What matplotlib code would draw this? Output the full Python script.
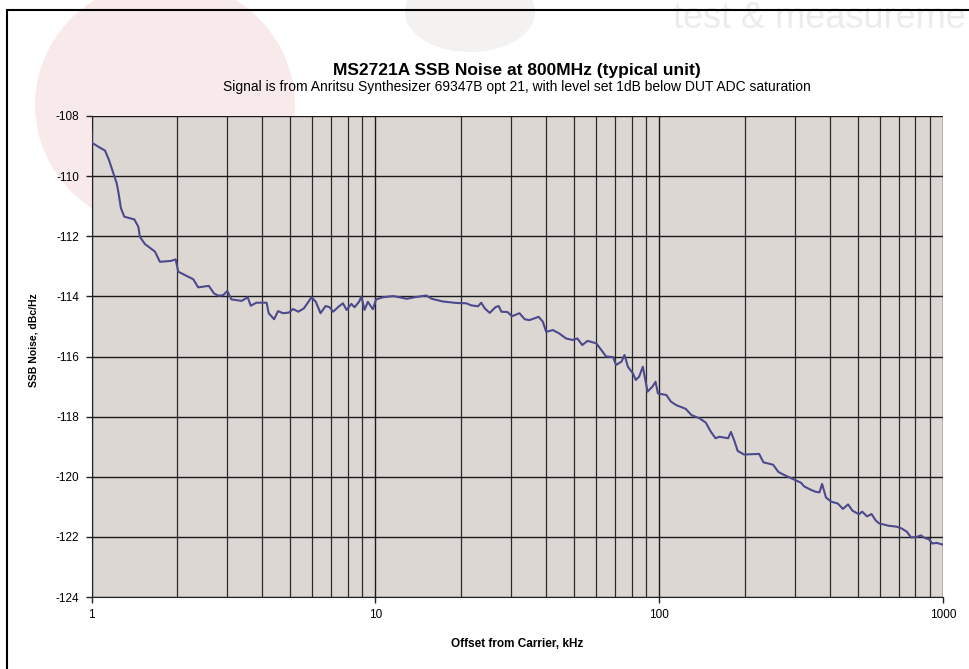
import numpy as np
import matplotlib
matplotlib.use("Agg")
import matplotlib.pyplot as plt
from matplotlib.patches import Ellipse, Rectangle
from matplotlib.ticker import FixedLocator, NullFormatter

# =========================================================
# DATA
# =========================================================

offset_khz = [
    1.0, 1.0, 1.056, 1.116, 1.152, 1.193, 1.227, 1.243, 1.27, 1.305,
    1.415, 1.462, 1.481, 1.543, 1.673, 1.742, 1.905, 1.979, 2.022, 2.134,
    2.283, 2.376, 2.59, 2.70, 2.80, 2.91, 3.01, 3.11, 3.38, 3.55,
    3.64, 3.81, 4.14, 4.21, 4.40, 4.54, 4.73, 4.96, 5.13, 5.35,
    5.6, 5.96, 6.17, 6.41, 6.68, 6.90, 7.10, 7.47, 7.69, 7.92,
    8.23, 8.45, 8.76, 8.93, 9.16, 9.41, 9.80, 10.06, 10.65, 11.55,
    12.17, 12.9, 13.75, 15.1, 15.8, 17.3, 19.3, 20.9, 21.8, 23.0,
    23.6, 24.3, 25.3, 26.5, 27.2, 27.8, 29.2, 30.3, 32.2, 33.6,
    34.9, 37.6, 38.9, 40.0, 42.2, 44.4, 47.0, 49.5, 51.5, 53.6,
    55.9, 60.0, 62.5, 65.0, 68.8, 70.5, 73.7, 75.5, 77.6, 80.8,
    82.7, 85.0, 87.6, 89.8, 91.0, 94.7, 97.1, 99.0, 106, 110,
    115, 124, 130, 139, 146, 152, 158, 163, 175, 179,
    184, 189, 199, 225, 233, 252, 263, 277, 298, 316,
    324, 345, 356, 367, 375, 387, 404, 426, 444, 463,
    480, 506, 519, 540, 560, 579, 595, 643, 686, 715,
    746, 772, 810, 835, 868, 890, 917, 950, 1000,
]

ssb_noise = [
    -108.55, -108.88, -109.02, -109.15, -109.46, -109.89, -110.24, -110.52, -111.07, -111.35,
    -111.44, -111.68, -112.02, -112.26, -112.51, -112.85, -112.82, -112.77, -113.18, -113.29,
    -113.43, -113.70, -113.65, -113.90, -113.98, -113.96, -113.82, -114.10, -114.15, -114.03,
    -114.31, -114.21, -114.21, -114.56, -114.76, -114.49, -114.56, -114.54, -114.42, -114.51,
    -114.40, -114.03, -114.18, -114.56, -114.32, -114.36, -114.51, -114.32, -114.23, -114.45,
    -114.25, -114.36, -114.18, -114.01, -114.45, -114.18, -114.43, -114.10, -114.03, -113.99,
    -114.03, -114.08, -114.03, -113.97, -114.08, -114.17, -114.22, -114.23, -114.30, -114.33,
    -114.21, -114.40, -114.55, -114.36, -114.32, -114.51, -114.52, -114.66, -114.56, -114.76,
    -114.79, -114.68, -114.84, -115.18, -115.12, -115.23, -115.40, -115.45, -115.40, -115.62,
    -115.48, -115.56, -115.78, -116.00, -116.02, -116.28, -116.17, -115.95, -116.34, -116.56,
    -116.78, -116.67, -116.34, -116.89, -117.17, -117.00, -116.84, -117.23, -117.28, -117.50,
    -117.62, -117.74, -117.95, -118.06, -118.20, -118.50, -118.72, -118.67, -118.72, -118.51,
    -118.80, -119.14, -119.26, -119.24, -119.52, -119.60, -119.84, -119.95, -120.09, -120.20,
    -120.32, -120.45, -120.50, -120.52, -120.24, -120.69, -120.83, -120.89, -121.07, -120.92,
    -121.13, -121.25, -121.16, -121.32, -121.24, -121.45, -121.55, -121.63, -121.66, -121.72,
    -121.83, -122.02, -122.00, -121.95, -122.05, -122.07, -122.22, -122.20, -122.26,
]

y_ticks = [-124, -122, -120, -118, -116, -114, -112, -110, -108]
x_ticks = [1, 10, 100, 1000]
x_tick_labels = ["1", "10", "100", "1000"]

title = "MS2721A SSB Noise at 800MHz (typical unit)"
subtitle = ("Signal is from Anritsu Synthesizer 69347B opt 21, "
            "with level set 1dB below DUT ADC saturation")

# =========================================================
# FIGURE
# =========================================================

plt.rcParams['font.family'] = ['Liberation Sans', 'DejaVu Sans']
plt.rcParams['axes.unicode_minus'] = False

W, H = 969, 669
fig = plt.figure(figsize=(W / 100, H / 100), dpi=100)
fig.patch.set_facecolor("white")

# faint background logo / watermark behind the chart
fig.patches.append(Ellipse((165 / W, 1 - 105 / H), 260 / W, 250 / H,
                           transform=fig.transFigure, facecolor="#f8eaea",
                           edgecolor="none", zorder=-10))
fig.patches.append(Ellipse((470 / W, 1 - 12 / H), 130 / W, 80 / H,
                           transform=fig.transFigure, facecolor="#f4f1f1",
                           edgecolor="none", zorder=-10))
fig.text(966 / W, 1 - 18 / H, "test & measureme", ha="right", va="center",
         fontsize=26, color="#ececec", zorder=-10)

# chart frame (cropped at right/bottom in the reference)
fig.patches.append(Rectangle((7 / W, -0.1), 1.2, (H - 10) / H + 0.1,
                             transform=fig.transFigure, facecolor="none",
                             edgecolor="black", linewidth=1.5, zorder=-5))

left, right, top, bottom = 91.5, 943, 116, 597
ax = fig.add_axes([left / W, 1 - bottom / H, (right - left) / W, (bottom - top) / H])
ax.set_facecolor("#ddd7d4")

ax.plot(offset_khz, ssb_noise, color="#4c4a8c", linewidth=1.5, zorder=3)

ax.set_xscale("log")
ax.set_xlim(1, 1000)
ax.set_ylim(-124, -108)

ax.xaxis.set_major_locator(FixedLocator(x_ticks))
ax.set_xticklabels(x_tick_labels)
ax.xaxis.set_minor_locator(FixedLocator(
    [m * d for d in (1, 10, 100) for m in range(2, 10)]))
ax.xaxis.set_minor_formatter(NullFormatter())
ax.set_yticks(y_ticks)

ax.grid(True, which="major", axis="both", color="#1a1a1a", linewidth=1.0, zorder=1)
ax.grid(True, which="minor", axis="x", color="#2a2a2a", linewidth=0.9, zorder=1)
ax.set_axisbelow(True)

for s in ("top", "right"):
    ax.spines[s].set_visible(False)
ax.spines["left"].set_color("#222222")
ax.spines["bottom"].set_color("#222222")

ax.tick_params(axis="both", which="major", direction="out", length=4,
               width=1, labelsize=8.5, color="#222222", pad=5)
ax.tick_params(axis="x", which="minor", length=0)

ax.set_xlabel("Offset from Carrier, kHz", fontsize=8.5, fontweight="bold", labelpad=12)
ax.set_ylabel("SSB Noise, dBc/Hz", fontsize=7.5, fontweight="bold")
ax.yaxis.set_label_coords(-53 / (right - left), (bottom - 340) / (bottom - top))

cx = (left + right) / 2 / W
fig.text(cx, 1 - 70 / H, title, ha="center", va="center",
         fontsize=12.5, fontweight="bold")
fig.text(cx, 1 - 87 / H, subtitle, ha="center", va="center", fontsize=10)

fig.savefig("out.png", dpi=100)
